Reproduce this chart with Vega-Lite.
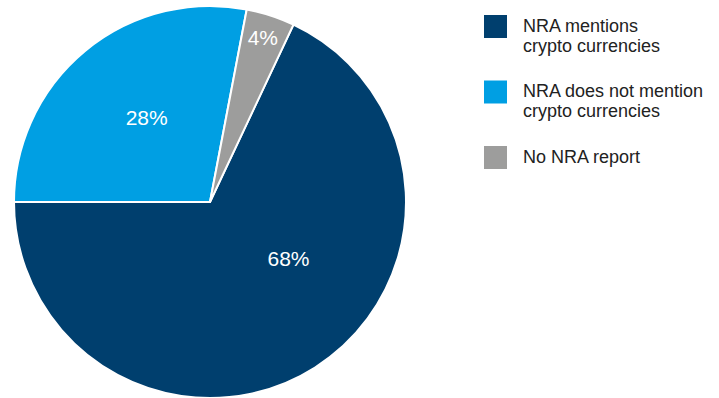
{
  "$schema": "https://vega.github.io/schema/vega-lite/v6.json",
  "width": 392,
  "height": 392,
  "padding": {"left": 10, "top": 2, "right": 0, "bottom": 0},
  "background": "white",
  "config": {"view": {"stroke": null}},
  "data": {
    "values": [
      {"category": "NRA mentions crypto currencies", "share": 68, "label": "68%", "order": 1},
      {"category": "NRA does not mention crypto currencies", "share": 28, "label": "28%", "order": 2},
      {"category": "No NRA report", "share": 4, "label": "4%", "order": 3}
    ]
  },
  "encoding": {
    "theta": {"field": "share", "type": "quantitative", "stack": true, "scale": {"range": [0.4398, 6.7230]}},
    "order": {"field": "order", "type": "quantitative"},
    "color": {
      "field": "category",
      "type": "nominal",
      "scale": {
        "domain": ["NRA mentions crypto currencies", "NRA does not mention crypto currencies", "No NRA report"],
        "range": ["#003f6e", "#009fe3", "#9d9d9c"]
      },
      "legend": {
        "title": null,
        "orient": "none",
        "legendX": 470,
        "legendY": 9,
        "padding": 0,
        "symbolType": "square",
        "symbolSize": 529,
        "symbolStrokeWidth": 0,
        "labelFont": "Liberation Sans",
        "labelFontSize": 18,
        "labelColor": "#222222",
        "labelLimit": 300,
        "labelOffset": 16,
        "rowPadding": 24.5,
        "labelExpr": "datum.label == 'NRA mentions crypto currencies' ? ['NRA mentions', 'crypto currencies'] : datum.label == 'NRA does not mention crypto currencies' ? ['NRA does not mention', 'crypto currencies'] : datum.label",
        "encode": {"labels": {"update": {"lineHeight": {"value": 21}}}}
      }
    }
  },
  "layer": [
    {"mark": {"type": "arc", "stroke": "white", "strokeWidth": 2}},
    {
      "mark": {"type": "text", "radius": 98, "dx": 26, "dy": -25, "font": "Liberation Sans", "fontSize": 21, "fill": "white"},
      "encoding": {"text": {"condition": {"test": "datum.order == 1", "field": "label"}, "value": ""}, "color": {"value": "white"}}
    },
    {
      "mark": {"type": "text", "radius": 104, "dx": 3, "dy": -3, "font": "Liberation Sans", "fontSize": 21, "fill": "white"},
      "encoding": {"text": {"condition": {"test": "datum.order == 2", "field": "label"}, "value": ""}, "color": {"value": "white"}}
    },
    {
      "mark": {"type": "text", "radius": 171, "font": "Liberation Sans", "fontSize": 21, "fill": "white"},
      "encoding": {"text": {"condition": {"test": "datum.order == 3", "field": "label"}, "value": ""}, "color": {"value": "white"}}
    }
  ]
}
